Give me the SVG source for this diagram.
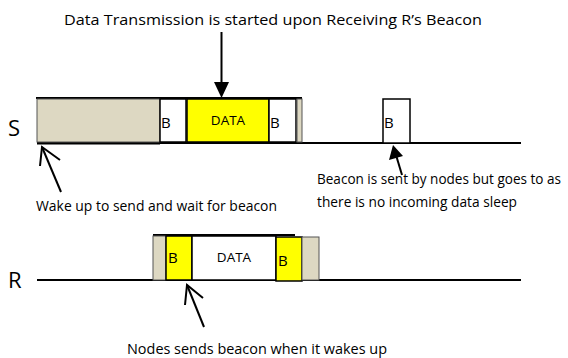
<svg xmlns="http://www.w3.org/2000/svg" width="568" height="358" viewBox="0 0 568 358">
<style>
text{font-family:"Open Sans","Liberation Sans",sans-serif;fill:#000}
.lbl{font-size:14px}
.big{font-size:22px}
.b{font-size:15px}
.d{font-size:13.5px}
.beige{fill:#ddd8c2;stroke:#555;stroke-width:1}
.white{fill:#fff;stroke:#000;stroke-width:1.5}
.yel{fill:#ffff00;stroke:#000;stroke-width:1.5}
.line{stroke:#000;stroke-width:2;fill:none}
</style>
<rect width="568" height="358" fill="#fff"/>
<text class="lbl" x="64" y="25" textLength="418" lengthAdjust="spacingAndGlyphs">Data Transmission is started upon Receiving R’s Beacon</text>
<g id="S-row">
<text class="big" x="8" y="136">S</text>
<line class="line" x1="37" y1="143" x2="521" y2="143"/>
<line x1="37" y1="143" x2="160" y2="143" stroke="#000" stroke-width="3"/>
<line x1="36" y1="98" x2="302" y2="98" stroke="#000" stroke-width="2"/>
</g>
<g id="S-wait"><rect class="beige" x="37" y="99" width="123" height="43"/></g>
<g id="S-B1"><rect class="white" x="160" y="99" width="26" height="43"/><text class="b" x="161" y="128">B</text></g>
<g id="S-DATA"><rect class="yel" x="187" y="99" width="82" height="43"/><text class="d" x="228" y="125" text-anchor="middle">DATA</text></g>
<g id="S-B2"><rect class="white" x="269" y="99" width="27" height="43"/><text class="b" x="270" y="128">B</text></g>
<g id="S-tail"><rect class="beige" x="297" y="99" width="5" height="43"/></g>
<g id="S-beacon"><rect class="white" x="383" y="99" width="27" height="44"/><text class="b" x="384" y="128">B</text></g>
<g id="R-row">
<text class="big" x="8" y="288">R</text>
<line class="line" x1="37" y1="280" x2="521" y2="280"/>
<line x1="153" y1="235" x2="295" y2="235" stroke="#000" stroke-width="2"/>
</g>
<g id="R-pre"><rect class="beige" x="153" y="236" width="13" height="44"/></g>
<g id="R-B1"><rect class="yel" x="166" y="236" width="26" height="44"/><text class="b" x="168" y="263">B</text></g>
<g id="R-DATA"><rect class="white" x="192" y="236" width="84" height="44"/><text class="d" x="234" y="262" text-anchor="middle">DATA</text></g>
<g id="R-B2"><rect class="yel" x="276" y="237" width="26" height="44"/><text class="b" x="278" y="266">B</text></g>
<g id="R-post"><rect class="beige" x="302" y="237" width="17" height="43"/></g>
<g id="connectors">
<line x1="221.5" y1="32" x2="221.5" y2="84" stroke="#000" stroke-width="2"/>
<path d="M214,82 L229,82 L221.5,98 z" fill="#000"/>
<line x1="61" y1="192" x2="42" y2="147" stroke="#000" stroke-width="2"/>
<polyline points="40,166 42,147 60,160" fill="none" stroke="#000" stroke-width="2"/>
<line x1="402" y1="175" x2="396" y2="155" stroke="#000" stroke-width="2"/>
<path d="M393,145 L389,160 L403,156 z" fill="#000"/>
<line x1="204" y1="327" x2="187" y2="285" stroke="#000" stroke-width="2"/>
<polyline points="185,305 187,285 203,298" fill="none" stroke="#000" stroke-width="2"/>
</g>
<text class="lbl" x="36" y="211" textLength="241" lengthAdjust="spacingAndGlyphs">Wake up to send and wait for beacon</text>
<text class="lbl" x="317" y="184" textLength="244" lengthAdjust="spacingAndGlyphs">Beacon is sent by nodes but goes to as</text>
<text class="lbl" x="317" y="207" textLength="200" lengthAdjust="spacingAndGlyphs">there is no incoming data sleep</text>
<text class="lbl" x="127" y="354" textLength="260" lengthAdjust="spacingAndGlyphs">Nodes sends beacon when it wakes up</text>
</svg>
